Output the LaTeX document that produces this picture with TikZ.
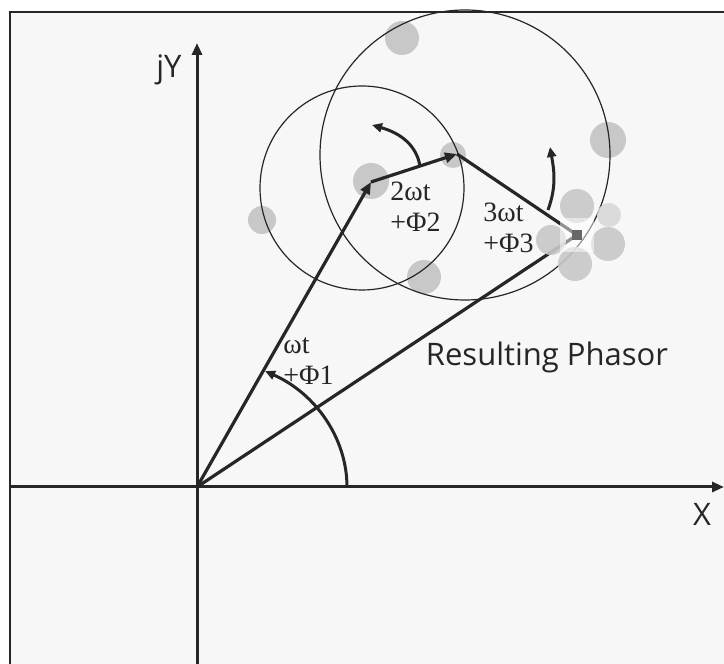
\documentclass[tikz,border=0pt]{standalone}
\usepackage{fontspec}
\setmainfont{Liberation Serif}
\newfontfamily\sansfont{Open Sans}
\usepackage{xcolor}
\usetikzlibrary{arrows.meta}
\definecolor{panel}{RGB}{247,247,247}
\definecolor{ink}{RGB}{38,38,38}
\definecolor{blob}{RGB}{200,200,200}

\begin{document}
\begin{tikzpicture}[x=0.5pt,y=0.5pt,
  axis/.style={draw=ink,line width=1.5pt},
  phasor/.style={draw=ink,line width=1.6pt},
  orbit/.style={draw=ink,line width=0.6pt},
  arr/.style={-{Triangle[length=6pt,width=5pt]}},
  turn/.style={draw=ink,line width=1.5pt,-{Triangle[length=5pt,width=4.5pt]}},
  gear/.style={fill=blob,draw=none},
  ang/.style={font=\fontsize{14}{15.5}\selectfont,text=ink,align=left,inner sep=0pt,anchor=west},
  axlab/.style={font=\sansfont\fontsize{15.5}{18}\selectfont,text=ink,inner sep=0pt}
]
\useasboundingbox (0,0) rectangle (724,664);
\fill[panel] (10,0) rectangle (724,652);
\draw[ink,line width=0.8pt] (10,0) -- (10,652) -- (724,652);

% points of the chain
\coordinate (O)  at (197,177);
\coordinate (P1) at (371,482);
\coordinate (P2) at (457,510);
\coordinate (P3) at (577,429);
\coordinate (c1) at (362,476);
\coordinate (c2) at (465,509);
\coordinate (ytop) at (197,621);
\coordinate (ybot) at (197,0);
\coordinate (xl) at (10,177);
\coordinate (xr) at (724,177);

% blobs behind
\fill[gear] (402,626) circle (17);
\fill[gear] (262,444) circle (14);
\fill[gear] (371,483) circle (18);
\fill[gear] (453,509) circle (13);
\fill[gear] (424,387) circle (17);
\fill[gear] (608,524) circle (18);

% circles
\draw[orbit] (c1) circle (102);
\draw[orbit] (c2) circle (145);

% axes
\draw[axis,arr] (ybot) -- (ytop);
\draw[axis,arr] (xl) -- (xr);

% phasors
\draw[phasor,arr] (O) -- (P1);
\draw[phasor,arr] (P1) -- (P2);
\draw[phasor] (P2) -- (P3);
\draw[phasor] (O) -- (P3);

% rotation arrows
\coordinate (r1s) at (420,498);
\coordinate (r1e) at (372,539);
\coordinate (r2s) at (548,454);
\coordinate (r2e) at (550,517);
\draw[turn] (O) ++(150,0) arc[start angle=0,end angle=63,x radius=150,y radius=130];
\draw[turn] (r1s) to[out=100,in=-16] (r1e);
\draw[turn] (r2s) to[out=70,in=-80] (r2e);

% blobs round the tip
\begin{scope}[opacity=0.9]
\fill[gear] (577,458) circle (17);
\fill[blob!70!white] (609,449) circle (12);
\fill[gear] (608,420) circle (17);
\fill[gear] (575,400) circle (17);
\fill[gear] (551,424) circle (15);
\fill[white,opacity=0.5] (560,412) rectangle (594,446);
\end{scope}
\fill[ink!70] (P3) ++(-5,-5) rectangle ++(10,10);

% labels
\node[axlab] (ylab) at (169,594) {jY};
\node[axlab] (xlab) at (702,150) {X};
\node[axlab] (res) at (547,307) {Resulting Phasor};
\node[ang] (w1) at (283,303) {ωt\\+Φ1};
\node[ang] (w2) at (390,457) {2ωt\\+Φ2};
\node[ang] (w3) at (483,436) {3ωt\\+Φ3};
\end{tikzpicture}
\end{document}
